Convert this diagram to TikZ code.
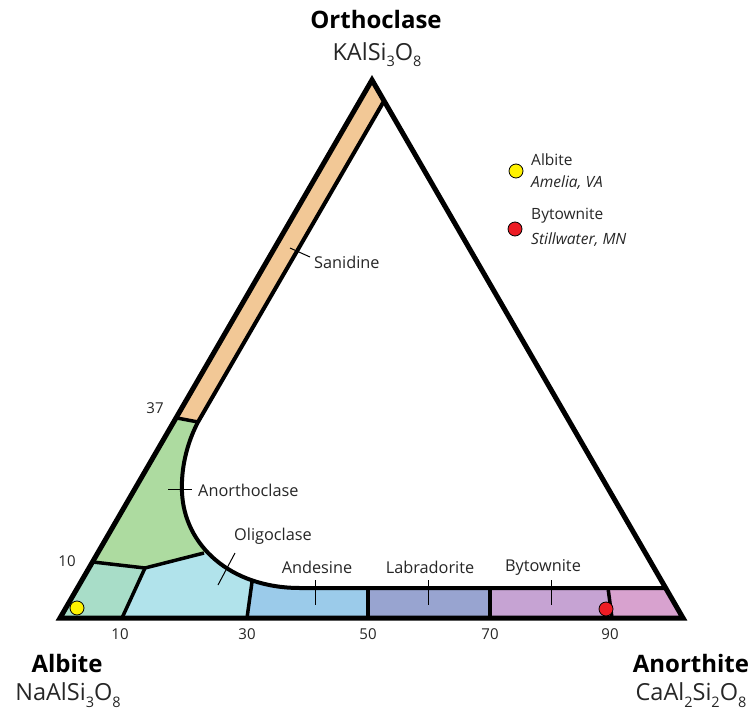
\documentclass[tikz,border=0pt]{standalone}
\usepackage{fontspec}
\setmainfont{Open Sans}
\definecolor{cSan}{HTML}{F2C896}
\definecolor{cAnc}{HTML}{ADDBA0}
\definecolor{cAlb}{HTML}{A8DDC8}
\definecolor{cOli}{HTML}{B1E3EB}
\definecolor{cAnd}{HTML}{9BCBEA}
\definecolor{cLab}{HTML}{98A4D0}
\definecolor{cByt}{HTML}{C6A3D3}
\definecolor{cAno}{HTML}{D8A2CF}
\definecolor{cYel}{HTML}{FFF200}
\definecolor{cRed}{HTML}{ED1C24}
\newcommand\lowsub[1]{\raisebox{-0.5ex}{\fontsize{14.5}{14.5}\selectfont #1}}
\begin{document}
\begin{tikzpicture}[x=1pt,y=-1pt,line join=miter,
  outerline/.style={line width=5pt},
  innerline/.style={line width=4pt},
  divline/.style={line width=3.5pt},
  leader/.style={line width=1pt},
  lbl/.style={font=\fontsize{16.3}{18}\selectfont, inner sep=0pt, text=black!85},
  leg/.style={font=\fontsize{15.5}{18}\selectfont, inner sep=0pt, text=black!85},
  ticklbl/.style={font=\fontsize{15}{18}\selectfont, inner sep=0pt, text=black!85},
  title/.style={font=\fontsize{24}{26}\selectfont\bfseries, inner sep=0pt},
  formula/.style={font=\fontsize{23.5}{26}\selectfont, inner sep=0pt, text=black!85},
  dot/.style={circle, draw=black, line width=0.8pt, minimum size=14pt, inner sep=0pt}]
\useasboundingbox (0,0) rectangle (754,719);
\coordinate (T) at (372,80);
\coordinate (L) at (60,618);
\coordinate (R) at (683,618);
% key points
\coordinate (s37a) at (177,418);
\coordinate (s37b) at (198,422);
\coordinate (sTop) at (384,101);
\coordinate (l10) at (93,562);
\coordinate (mid10) at (145,568);
\coordinate (c10) at (204,553);
\coordinate (cEnd) at (300,588);
\coordinate (bEnd) at (665,588);
% fills
\begin{scope}
\clip (T)--(L)--(R)--cycle;
\fill[cSan] (0,384)--(372,40)--(460,200)--(260,434)--cycle;
\fill[cAnc] (0,384)--(260,434)--(260,539)--(c10)--(mid10)--(0,551)--cycle;
\fill[cAlb] (0,551)--(mid10)--(112,640)--(0,640)--cycle;
\fill[cOli] (mid10)--(c10)--(260,539)--(243,640)--(112,640)--cycle;
\fill[cAnd] (260,539)--(368,539)--(368,640)--(243,640)--cycle;
\fill[cLab] (368,539)--(490,539)--(490,640)--(368,640)--cycle;
\fill[cByt] (490,539)--(601,539)--(615,640)--(490,640)--cycle;
\fill[cAno] (601,539)--(720,539)--(720,640)--(615,640)--cycle;
\fill[white] (s37b) .. controls (186,445) and (181,470) .. (182,492)
  .. controls (184,545) and (230,588) .. (cEnd) -- (720,588) -- (720,40) -- (420,40) -- cycle;
\end{scope}
% boundaries
\draw[divline] (s37a)--(s37b);
\draw[innerline] (sTop)--(s37b) .. controls (186,445) and (181,470) .. (182,492)
  .. controls (184,545) and (230,588) .. (cEnd) -- (bEnd);
\draw[divline] (l10)--(mid10)--(c10);
\draw[divline] (mid10)--(122,618);
\draw[divline] (252,582)--(247,618);
\draw[divline] (368,588)--(368,618);
\draw[divline] (490,588)--(490,618);
\draw[divline] (608,588)--(612,618);
\draw[outerline] (T)--(L)--(R)--cycle;
% leaders and labels
\draw[leader] (290,248)--(310,257);
\node[lbl, anchor=west] (san) at (314,262) {Sanidine};
\draw[leader] (168,489)--(192,489);
\node[lbl, anchor=west] (anc) at (198,490) {Anorthoclase};
\draw[leader] (235,553)--(218,585);
\node[lbl] (oli) at (273,536) {Oligoclase};
\draw[leader] (315,580)--(315,605);
\node[lbl] (and) at (317,567) {Andesine};
\draw[leader] (428,580)--(428,605);
\node[lbl] (lab) at (430,567) {Labradorite};
\draw[leader] (551,580)--(551,605);
\node[lbl] (byt) at (543,567) {Bytownite};
% tick labels
\node[ticklbl] (t10) at (120,634) {10};
\node[ticklbl] (t30) at (247,634) {30};
\node[ticklbl] (t50) at (368,634) {50};
\node[ticklbl] (t70) at (490,634) {70};
\node[ticklbl] (t90) at (610,634) {90};
\node[ticklbl] (l37) at (155,408) {37};
\node[ticklbl] (l10t) at (67,561) {10};
% samples
\node[dot, fill=cYel] (pA) at (77,608) {};
\node[dot, fill=cRed] (pB) at (606,609) {};
% legend
\node[dot, fill=cYel] (gA) at (516,171) {};
\node[dot, fill=cRed] (gB) at (515,229) {};
\node[leg, anchor=west] (gA1) at (531,160) {Albite};
\node[leg, anchor=west] (gA2) at (531,183) {\itshape Amelia, VA};
\node[leg, anchor=west] (gB1) at (531,216) {Bytownite};
\node[leg, anchor=west] (gB2) at (531,240) {\itshape Stillwater, MN};
% corner titles
\node[title] (or) at (376,20) {Orthoclase};
\node[formula] (orf) at (377,55) {KAlSi\lowsub{3}O\lowsub{8}};
\node[title] (ab) at (67,663) {Albite};
\node[formula] (abf) at (68,695) {NaAlSi\lowsub{3}O\lowsub{8}};
\node[title] (an) at (691,663) {Anorthite};
\node[formula] (anf) at (691,695) {CaAl\lowsub{2}Si\lowsub{2}O\lowsub{8}};
\end{tikzpicture}
\end{document}
